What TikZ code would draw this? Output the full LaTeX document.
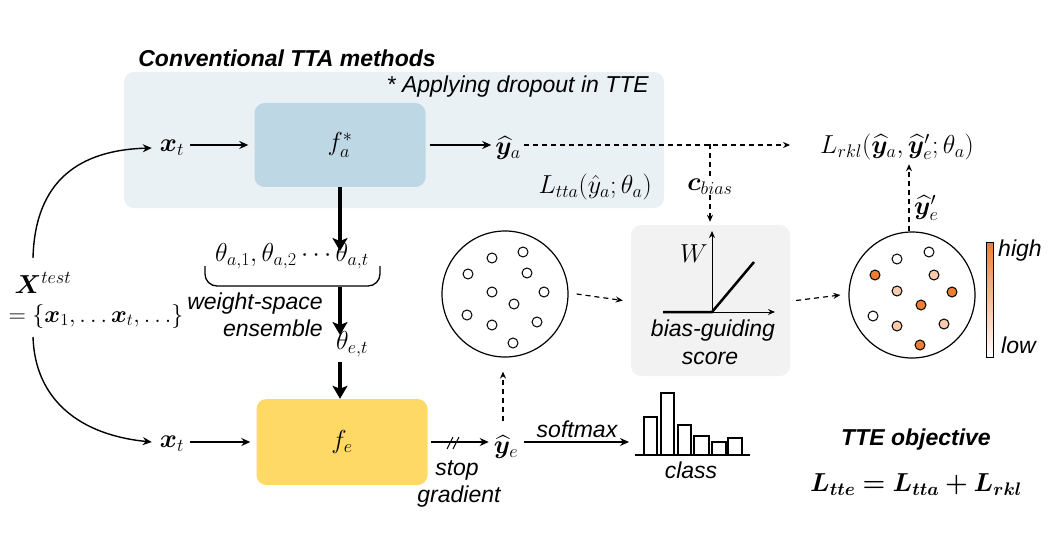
\RequirePackage{fix-cm}
\documentclass[tikz,border=0pt]{standalone}
\usepackage{amsmath}
\usepackage{bm}
\usepackage[no-math]{fontspec}
\setmainfont{Liberation Sans}
\usetikzlibrary{arrows.meta}
\definecolor{panelc}{HTML}{EAF1F5}
\definecolor{fac}{HTML}{BED7E4}
\definecolor{fec}{HTML}{FFD966}
\definecolor{biasc}{HTML}{F2F2F2}
\definecolor{orng}{HTML}{ED7D31}
\definecolor{lorng}{HTML}{F8CBAD}
\begin{document}
\begin{tikzpicture}[x=1pt,y=-1pt,
  lab/.style={font=\fontsize{23}{26}\selectfont\itshape, inner sep=0pt},
  blab/.style={font=\fontsize{23}{26}\selectfont\bfseries\itshape, inner sep=0pt},
  mth/.style={font=\fontsize{26}{30}\selectfont, inner sep=0pt},
  arr/.style={-{Stealth[length=9pt,width=8pt]}, line width=1.4pt},
  darr/.style={-{Stealth[length=7pt,width=6pt]}, line width=1.2pt, dash pattern=on 5pt off 4pt},
  dline/.style={line width=1.2pt, dash pattern=on 5pt off 4pt},
  tarr/.style={-{Stealth[length=13pt,width=15pt,inset=3pt]}, line width=4pt},
  box/.style={rounded corners=10pt, inner sep=0pt},
  dotw/.style={draw, line width=1pt, fill=white},
  dotd/.style={draw, line width=1pt, fill=orng},
  dotl/.style={draw, line width=1pt, fill=lorng},
  bigc/.style={circle, draw, line width=1.2pt, minimum size=126pt, inner sep=0pt},
]
\useasboundingbox (0,0) rectangle (1062,540);
% panel
\node[box, fill=panelc, minimum width=540pt, minimum height=136pt] (panel) at (394,140) {};
\node[blab] (ttl) at (287,58) {Conventional TTA methods};
\node[lab, anchor=east] (drop) at (649,87) {* Applying dropout in TTE};
% boxes
\node[box, fill=fac, minimum width=171pt, minimum height=84pt, font=\fontsize{26}{30}\selectfont] (fa) at (340,145) {$f_a^*$};
\node[box, fill=fec, minimum width=171pt, minimum height=86pt, font=\fontsize{26}{30}\selectfont] (fe) at (342,442) {$f_e$};
% math labels
\node[mth] (xt1) at (172,148) {$\bm{x}_t$};
\node[mth] (ya) at (508,148) {$\widehat{\bm{y}}_a$};
\node[mth, anchor=east] (ltta) at (652,187) {$L_{tta}(\hat{y}_a;\theta_a)$};
\node[mth, fill=white] (cb) at (710,187) {$\bm{c}_{bias}$};
\node[mth, anchor=west] (lrkl) at (820,147) {$L_{rkl}(\widehat{\bm{y}}_a,\widehat{\bm{y}}'_e;\theta_a)$};
\node[mth, anchor=west] (ype) at (914,208) {$\widehat{\bm{y}}'_e$};
\node[mth] (theta) at (292,256) {$\theta_{a,1},\theta_{a,2}\cdots\theta_{a,t}$};
\node[lab, anchor=east] (ws) at (323,304) {weight-space};
\node[lab, anchor=east] (ens) at (323,328) {ensemble};
\node[mth] (thetae) at (352,344) {$\theta_{e,t}$};
\node[mth] (xt2) at (172,444) {$\bm{x}_t$};
\node[mth] (ye) at (506,447) {$\widehat{\bm{y}}_e$};
\node[lab] (stop) at (457,470) {stop};
\node[lab] (grad) at (459,497) {gradient};
\node[lab] (smx) at (577,429) {softmax};
\node[lab] (cls) at (691,470) {class};
\node[blab] (tteo) at (916,440) {TTE objective};
\node[mth] (ltte) at (916,485) {$\bm{L_{tte}=L_{tta}+L_{rkl}}$};
\node[mth] (xtest) at (43,283) {$\bm{X}^{test}$};
\node[mth, font=\fontsize{24}{28}\selectfont] (xset) at (96,316) {$=\{\bm{x}_1,\ldots\bm{x}_t,\ldots\}$};
% circles and bias box
\node[bigc] (c1) at (505,294) {};
\node[box, fill=biasc, minimum width=159pt, minimum height=151pt] (bias) at (710.5,300.5) {};
\node[bigc] (c2) at (912,295) {};
\node[mth] (wl) at (694,254) {$W$};
\node[lab] (bg) at (713,331) {bias-guiding};
\node[lab] (sc) at (710,358) {score};
\draw[-{Stealth[length=7pt,width=6pt]}, line width=1pt] (712,312) -- (712,231);
\draw[-{Stealth[length=7pt,width=6pt]}, line width=1pt] (663,312) -- (775,312);
\draw[line width=2.5pt] (663,312) -- (712,312) -- (754,262);
% color bar
\shade[top color=orng, bottom color=white] (986,242) rectangle (993,357);
\draw[line width=1pt] (986,242) rectangle (993,357);
\node[lab, anchor=west] (hi) at (998,251) {high};
\node[lab, anchor=west] (lo) at (1001,345) {low};
% dots
\foreach \x/\y in {523/252,492/258,468/274,527/273,492/292,544/292,514/304,467/315,492/325,537/322,513/343}
  \draw[dotw] (\x,\y) circle[radius=5pt];
\foreach \x/\y in {929/252,897/259,873/316}
  \draw[dotw] (\x,\y) circle[radius=5pt];
\foreach \x/\y in {875/275,952/292,921/305,920/345}
  \draw[dotd] (\x,\y) circle[radius=5pt];
\foreach \x/\y in {934/275,897/291,897/326,944/324}
  \draw[dotl] (\x,\y) circle[radius=5pt];
% histogram
\foreach \a/\b/\t in {644/657/417,661/674/393,678/691/425,694/709/436,712/726/442,728/742/438}
  \draw[line width=1.2pt, fill=white] (\a,455) rectangle (\b,\t);
\draw[line width=1.3pt] (635,455) -- (750,455);
% brace
\draw[line width=1.3pt, rounded corners=12pt] (205,266) -- (205,286) -- (380,286) -- (380,266);
% coordinates
\coordinate (ctop) at (33,258);
\coordinate (cbot) at (33,337);
\coordinate (jc) at (710,144);
\coordinate (brb) at (340,287);
\coordinate (t3) at (340,362);
\coordinate (hs) at (629,442);
% connectors
\draw[arr] (ctop) .. controls (35,180) and (80,150) .. ([xshift=-8pt]xt1.west);
\draw[arr] (cbot) .. controls (35,400) and (80,435) .. ([xshift=-8pt]xt2.west |- fe.west);
\draw[arr] ([xshift=6pt]xt1.east |- fa.east) -- ([xshift=-6pt]fa.west);
\draw[arr] ([xshift=4pt]fa.east) -- ([xshift=-4pt]ya.west |- fa.east);
\draw[darr] ([xshift=3pt]ya.east |- fa.east) -- ([xshift=-30pt]lrkl.west |- fa.east);
\draw[dline] (jc) -- (cb.north);
\draw[darr] (cb.south) -- ([yshift=3pt]jc |- bias.north);
\draw[darr] ([xshift=-3pt]c2.north) -- ([xshift=-3pt,yshift=-4pt]c2.north |- lrkl.south);
\draw[tarr] (fa.south) -- ([yshift=-8pt]fa.south |- theta.north);
\draw[tarr] (brb) -- ([yshift=-4pt]brb |- thetae.north);
\draw[tarr] (t3) -- (t3 |- fe.north);
\draw[arr] ([xshift=6pt]xt2.east |- fe.west) -- ([xshift=-6pt]fe.west);
\draw[arr] ([xshift=3pt]fe.east) -- ([xshift=-5pt]ye.west |- fe.east);
\draw[line width=1pt] (447,449) -- (453,437) (453,449) -- (459,437);
\draw[darr] ([xshift=-2pt,yshift=14pt]c1.south |- ye.north) -- ([xshift=-2pt,yshift=-14pt]c1.south);
\draw[arr] ([xshift=6pt]ye.east |- fe.east) -- (hs);
\draw[darr] ([xshift=8pt]c1.east) -- ([xshift=-8pt]bias.west);
\draw[darr] ([xshift=6pt]bias.east) -- ([xshift=-8pt]c2.west);
\end{tikzpicture}
\end{document}
